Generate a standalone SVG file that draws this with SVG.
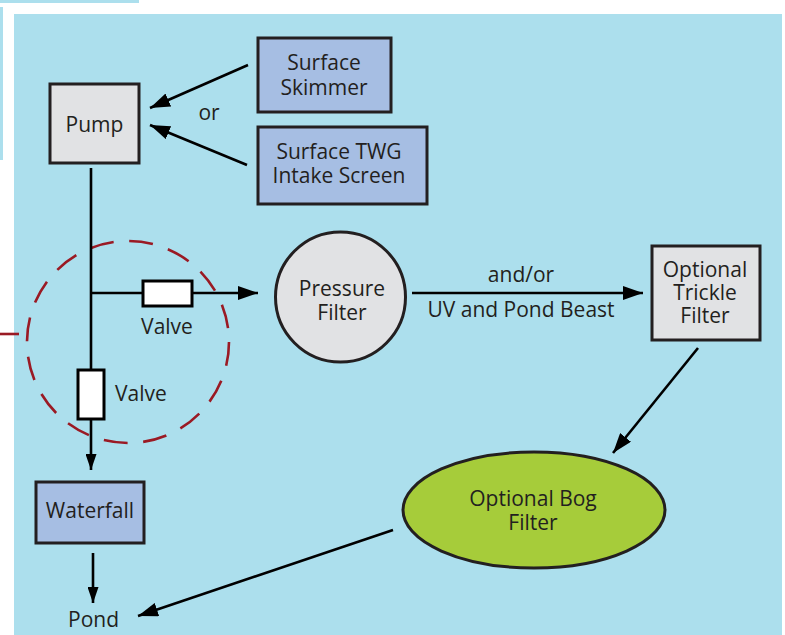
<svg xmlns="http://www.w3.org/2000/svg" width="785" height="635" viewBox="0 0 785 635">
<defs>
<style>
.box{stroke:#231f20;stroke-width:3}
.blue{fill:#a6bee3}
.gray{fill:#e1e2e4}
.valve{fill:#ffffff;stroke:#000;stroke-width:3}
.ln{stroke:#000;stroke-width:2.6;fill:none}
text{font-family:"Open Sans","Liberation Sans",sans-serif;font-size:21px;fill:#231f20;text-anchor:middle}
</style>
<marker id="ah" markerUnits="userSpaceOnUse" markerWidth="20" markerHeight="14" refX="20" refY="7" orient="auto">
<path d="M0,0 L20,7 L0,14 z" fill="#000"/>
</marker>
<marker id="ahs" markerUnits="userSpaceOnUse" markerWidth="16" markerHeight="11" refX="16" refY="5.5" orient="auto">
<path d="M0,0 L16,5.5 L0,11 z" fill="#000"/>
</marker>
</defs>
<rect width="785" height="635" fill="#ffffff"/>
<rect x="0" y="0" width="139" height="3" fill="#acdfed"/>
<rect x="0" y="7" width="3" height="153" fill="#acdfed"/>
<rect x="14" y="14" width="768" height="621" fill="#acdfed"/>

<g id="valve-zone">
<circle cx="128" cy="342" r="101" fill="none" stroke="#9a1a24" stroke-width="2.6" stroke-dasharray="24 15.7"/>
<line x1="0" y1="334" x2="19" y2="334" stroke="#9a1a24" stroke-width="2.6"/>
</g>

<g id="connectors">
<line class="ln" x1="248" y1="65" x2="150" y2="108" marker-end="url(#ah)"/>
<line class="ln" x1="247" y1="165" x2="150" y2="125" marker-end="url(#ah)"/>
<line class="ln" x1="91" y1="168" x2="91" y2="470" marker-end="url(#ahs)"/>
<line class="ln" x1="91" y1="293" x2="258" y2="293" marker-end="url(#ah)"/>
<line class="ln" x1="412" y1="293" x2="643" y2="293" marker-end="url(#ah)"/>
<line class="ln" x1="698" y1="348" x2="613" y2="453" marker-end="url(#ah)"/>
<line class="ln" x1="393" y1="530" x2="138" y2="616" marker-end="url(#ah)"/>
<line class="ln" x1="93" y1="553" x2="93" y2="603" marker-end="url(#ahs)"/>
<text x="209" y="120">or</text>
<text x="521" y="282">and/or</text>
<text x="521" y="317">UV and Pond Beast</text>
</g>

<g id="pump">
<rect class="box gray" x="50" y="84" width="89" height="79"/>
<text x="94.5" y="132">Pump</text>
</g>
<g id="surface-skimmer">
<rect class="box blue" x="258" y="38" width="133" height="74"/>
<text x="324" y="70">Surface</text>
<text x="324" y="95">Skimmer</text>
</g>
<g id="surface-twg">
<rect class="box blue" x="258" y="127" width="169" height="77"/>
<text x="339" y="159">Surface TWG</text>
<text x="339" y="183">Intake Screen</text>
</g>
<g id="valve-h">
<rect class="valve" x="143" y="281" width="49" height="25"/>
<text x="167" y="334">Valve</text>
</g>
<g id="valve-v">
<rect class="valve" x="78" y="370" width="26" height="49"/>
<text x="115" y="401" style="text-anchor:start">Valve</text>
</g>
<g id="pressure-filter">
<circle class="box gray" cx="340.5" cy="297" r="65"/>
<text x="342" y="296">Pressure</text>
<text x="342" y="320">Filter</text>
</g>
<g id="trickle-filter">
<rect class="box gray" x="652" y="246" width="108" height="94"/>
<text x="705" y="277">Optional</text>
<text x="705" y="300">Trickle</text>
<text x="705" y="323">Filter</text>
</g>
<g id="bog-filter">
<ellipse class="box" cx="534" cy="510" rx="131" ry="58" fill="#a6cc3a"/>
<text x="533" y="506">Optional Bog</text>
<text x="533" y="530">Filter</text>
</g>
<g id="waterfall">
<rect class="box blue" x="36" y="482" width="108" height="61"/>
<text x="90" y="518">Waterfall</text>
</g>
<g id="pond">
<text x="93.5" y="627">Pond</text>
</g>
</svg>
